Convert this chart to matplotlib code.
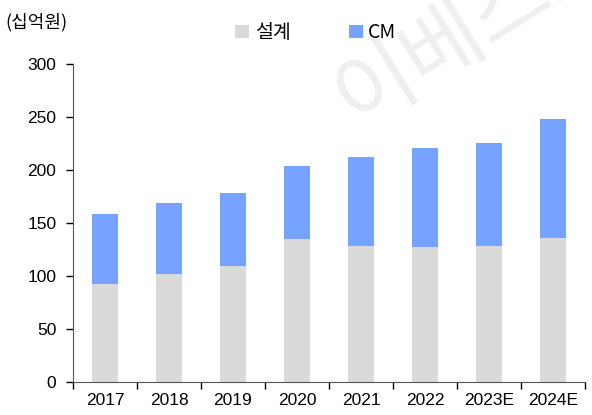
import matplotlib
matplotlib.use('Agg')
import matplotlib.pyplot as plt
import numpy as np

# data (십억원)
years = ['2017', '2018', '2019', '2020', '2021', '2022', '2023E', '2024E']
design = [92.5, 102, 109, 135, 128, 127.5, 128, 136]
cm = [66, 67, 69, 68.5, 84, 93, 97.5, 112]

plt.rcParams['font.family'] = ['Liberation Sans', 'Noto Sans CJK KR']

gray = '#D9D9D9'
blue = '#75A3FF'

fig = plt.figure(figsize=(5.92, 4.15), dpi=100)

# faint watermark
fig.text(478/592, 1 - 24/415, '이베스트', fontsize=62, color='#EFEFEF', rotation=32,
         ha='center', va='center', family=['Noto Sans CJK KR'], zorder=0)

ax = fig.add_axes([73/592, 33/415, 512/592, 318/415])
ax.patch.set_alpha(0)

x = np.arange(len(years))
ax.bar(x, design, width=0.4, color=gray, label='설계', edgecolor='none')
ax.bar(x, cm, width=0.4, bottom=design, color=blue, label='CM', edgecolor='none')

ax.set_xlim(-0.5, len(years) - 0.5)
ax.set_ylim(0, 300)
ax.set_yticks(range(0, 301, 50))
ax.set_xticks(x)
ax.set_xticklabels(years)
ax.set_xticks(np.arange(-0.5, len(years) - 0.4, 1), minor=True)
ax.tick_params(axis='x', which='major', length=0, pad=8, labelsize=12.5)
ax.tick_params(axis='x', which='minor', length=5, width=1, color='black', direction='out')
ax.tick_params(axis='y', length=5, width=1, direction='out', labelsize=12.5, pad=7)

for s in ['top', 'right']:
    ax.spines[s].set_visible(False)
ax.spines['left'].set_color('#555555')
ax.spines['bottom'].set_color('#555555')

fig.text(5/592, 1 - 22/415, '(십억원)', fontsize=13, va='center', ha='left', family=['Noto Sans CJK KR'])

fig.legend(loc='center', bbox_to_anchor=(316/592, 1 - 33/415), ncol=2, frameon=False,
           handlelength=0.7, handleheight=0.7, handletextpad=0.3, columnspacing=3.0,
           prop={'family': ['Noto Sans CJK KR'], 'size': 14})

fig.savefig('out.png', dpi=100)
